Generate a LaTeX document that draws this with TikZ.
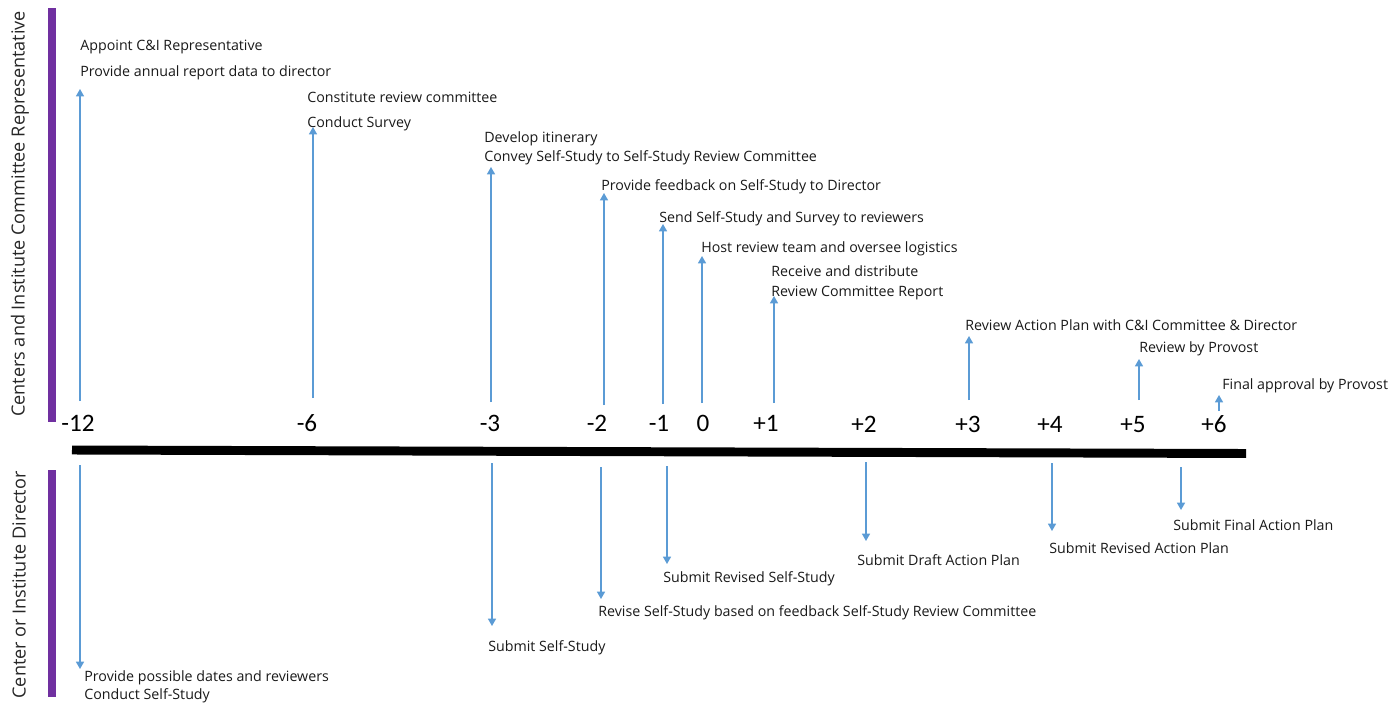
\documentclass[tikz,border=0pt]{standalone}
\usepackage{fontspec}
\setmainfont{Open Sans}
\newfontfamily\numfont{Carlito}
\usetikzlibrary{arrows.meta}
\definecolor{arrowblue}{RGB}{91,155,213}
\definecolor{lanepurple}{RGB}{112,48,160}
\newcommand{\arrowcolor}{arrowblue}
\newcommand{\lanecolor}{lanepurple}
\newcommand{\arrowwidth}{0.75pt}

\tikzset{
  task/.style={anchor=base west, inner sep=0pt, font=\fontsize{8.1}{9.5}\selectfont, text=black!90},
  tick/.style={anchor=base, inner sep=0pt, font=\numfont\fontsize{14.3}{16}\selectfont},
  lane/.style={anchor=center, inner sep=0pt, rotate=90, font=\fontsize{10.3}{12}\selectfont, text=black!85},
  upto/.style={draw=\arrowcolor, line width=\arrowwidth, -{Triangle[width=4.6pt,length=4.2pt]}},
}

\begin{document}
\begin{tikzpicture}[x=0.02cm, y=-0.02cm]
\useasboundingbox (0,0) rectangle (1390,703);
%lanes
\fill[\lanecolor] (47.5,8) rectangle (55.5,422);
\fill[\lanecolor] (48,470) rectangle (56,697);
\node[lane] (lanetop) at (20,214) {Centers and Institute Committee Representative};
\node[lane] (lanebot) at (19,585) {Center or Institute Director};
%axis
\coordinate (axl) at (72,450);
\coordinate (axr) at (1246,453.5);
\draw[line width=5.1pt] (axl) -- (axr);
\node[tick] (m12) at (78,431) {-12};
\node[tick] (m6) at (307,431) {-6};
\node[tick] (m3) at (490,431) {-3};
\node[tick] (m2) at (597,431) {-2};
\node[tick] (m1) at (659,431) {-1};
\node[tick] (z0) at (703,431) {0};
\node[tick] (p1) at (766,431) {+1};
\node[tick] (p2) at (864,432) {+2};
\node[tick] (p3) at (968,432) {+3};
\node[tick] (p4) at (1050,432) {+4};
\node[tick] (p5) at (1133,432) {+5};
\node[tick] (p6) at (1214,432) {+6};
%committee tasks
\node[task] (t1) at (80,51) {Appoint C\&I Representative};
\node[task] (t2) at (80,76) {Provide annual report data to director};
\node[task] (t3) at (307,102) {Constitute review committee};
\node[task] (t4) at (307,127) {Conduct Survey};
\node[task] (t5) at (484,142) {Develop itinerary};
\node[task] (t6) at (484,161) {Convey Self-Study to Self-Study Review Committee};
\node[task] (t7) at (601,190) {Provide feedback on Self-Study to Director};
\node[task] (t8) at (659,222) {Send Self-Study and Survey to reviewers};
\node[task] (t9) at (701,252) {Host review team and oversee logistics};
\node[task] (t10) at (771,276) {Receive and distribute};
\node[task] (t11) at (771,296) {Review Committee Report};
\node[task] (t12) at (965,330) {Review Action Plan with C\&I Committee \& Director};
\node[task] (t13) at (1139,352) {Review by Provost};
\node[task] (t14) at (1222,389) {Final approval by Provost};
%director tasks
\node[task] (d1) at (84,681) {Provide possible dates and reviewers};
\node[task] (d2) at (84,699) {Conduct Self-Study};
\node[task] (d3) at (488,651) {Submit Self-Study};
\node[task] (d4) at (598,616) {Revise Self-Study based on feedback Self-Study Review Committee};
\node[task] (d5) at (663,582) {Submit Revised Self-Study};
\node[task] (d6) at (857,565) {Submit Draft Action Plan};
\node[task] (d7) at (1049,553) {Submit Revised Action Plan};
\node[task] (d8) at (1173,530) {Submit Final Action Plan};
%up arrows
\coordinate (ua1) at (80,401);   \coordinate (uh1) at (80,89);
\coordinate (ua2) at (313,398);  \coordinate (uh2) at (313,127);
\coordinate (ua3) at (491,402);  \coordinate (uh3) at (491,167);
\coordinate (ua4) at (604,405);  \coordinate (uh4) at (604,193);
\coordinate (ua5) at (663,404);  \coordinate (uh5) at (663,224);
\coordinate (ua6) at (702,403);  \coordinate (uh6) at (702,256);
\coordinate (ua7) at (774,403);  \coordinate (uh7) at (774,296);
\coordinate (ua8) at (969,400);  \coordinate (uh8) at (969,336);
\coordinate (ua9) at (1139,400); \coordinate (uh9) at (1139,359);
\coordinate (ua10) at (1219,411); \coordinate (uh10) at (1219,395);
\draw[upto] (ua1) -- (uh1);
\draw[upto] (ua2) -- (uh2);
\draw[upto] (ua3) -- (uh3);
\draw[upto] (ua4) -- (uh4);
\draw[upto] (ua5) -- (uh5);
\draw[upto] (ua6) -- (uh6);
\draw[upto] (ua7) -- (uh7);
\draw[upto] (ua8) -- (uh8);
\draw[upto] (ua9) -- (uh9);
\draw[upto] (ua10) -- (uh10);
%down arrows
\coordinate (da1) at (80,465);   \coordinate (dh1) at (80,669);
\coordinate (da2) at (492,463);  \coordinate (dh2) at (492,626);
\coordinate (da3) at (601,467);  \coordinate (dh3) at (601,599);
\coordinate (da4) at (667,466);  \coordinate (dh4) at (667,564);
\coordinate (da5) at (866,462);  \coordinate (dh5) at (866,541);
\coordinate (da6) at (1052,463); \coordinate (dh6) at (1052,531);
\coordinate (da7) at (1181,467); \coordinate (dh7) at (1181,510);
\draw[upto] (da1) -- (dh1);
\draw[upto] (da2) -- (dh2);
\draw[upto] (da3) -- (dh3);
\draw[upto] (da4) -- (dh4);
\draw[upto] (da5) -- (dh5);
\draw[upto] (da6) -- (dh6);
\draw[upto] (da7) -- (dh7);
\end{tikzpicture}
\end{document}
